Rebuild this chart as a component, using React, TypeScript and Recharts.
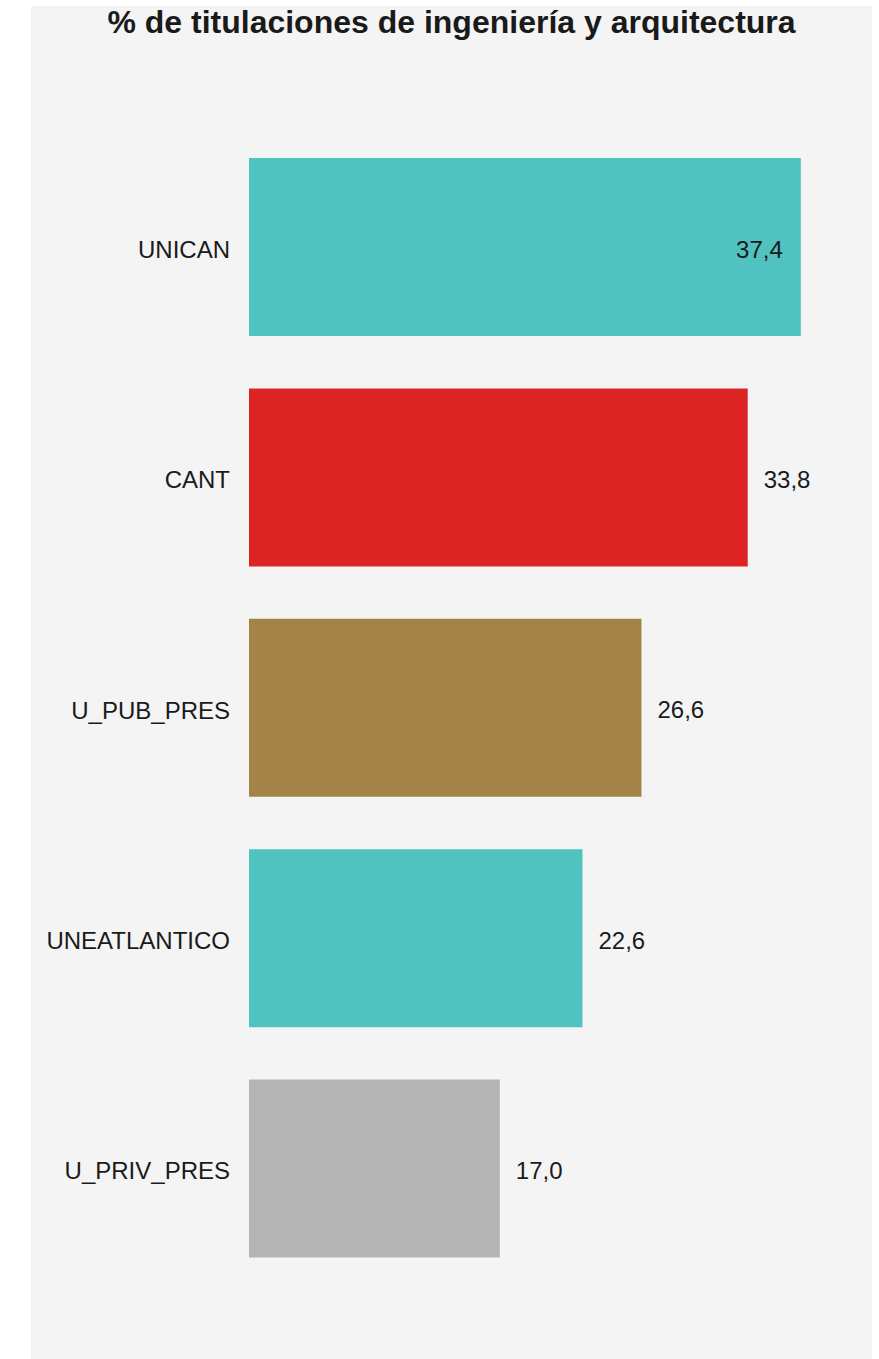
import { Bar, BarChart, Cell, LabelList, XAxis, YAxis } from 'recharts';

const categories = ['UNICAN', 'CANT', 'U_PUB_PRES', 'UNEATLANTICO', 'U_PRIV_PRES'];
const values = [37.4, 33.8, 26.6, 22.6, 17.0];
const colors = ['#50C2C0', '#DC2424', '#A38346', '#50C2C0', '#B5B5B5'];

const title = '% de titulaciones de ingeniería y arquitectura';

const data = categories.map((name, i) => ({ name, value: values[i] }));
const maxValue = Math.max(...values);

const fmt = (v: number) => v.toFixed(1).replace('.', ',');

const FONT = '"Liberation Sans", Arial, sans-serif';

function ValueLabel(props: any) {
  const { x, y, width, height, value } = props;
  const inside = value === maxValue;
  const tx = inside ? x + width - 18 : x + width + 16;
  return (
    <text
      x={tx}
      y={y + height / 2 + 2}
      textAnchor={inside ? 'end' : 'start'}
      dominantBaseline="central"
      fill="#1a1a1a"
      fontSize={24}
      fontFamily={FONT}
    >
      {fmt(value)}
    </text>
  );
}

function CategoryTick(props: any) {
  const { x, y, payload } = props;
  return (
    <text
      x={x}
      y={y + 2}
      textAnchor="end"
      dominantBaseline="central"
      fill="#1a1a1a"
      fontSize={24}
      fontFamily={FONT}
    >
      {payload.value}
    </text>
  );
}

export default function App() {
  return (
    <div style={{ position: 'absolute', left: 0, top: 0, width: 879, height: 1359, background: '#fff' }}>
      <div
        style={{
          position: 'absolute',
          left: 31,
          top: 6,
          width: 841,
          height: 1353,
          background: '#F4F4F4',
        }}
      />
      <div
        style={{
          position: 'absolute',
          left: 31,
          top: 4,
          width: 841,
          textAlign: 'center',
          fontFamily: FONT,
          fontWeight: 'bold',
          fontSize: 32,
          color: '#1a1a1a',
          lineHeight: '37px',
        }}
      >
        {title}
      </div>
      <div style={{ position: 'absolute', left: 0, top: 0 }}>
        <BarChart
          width={879}
          height={1359}
          data={data}
          layout="vertical"
          margin={{ top: 132, right: 23, bottom: 75, left: 0 }}
        >
          <XAxis type="number" domain={[0, 41.14]} hide />
          <YAxis
            type="category"
            dataKey="name"
            width={249}
            axisLine={false}
            tickLine={false}
            tickSize={0}
            tickMargin={19}
            tick={<CategoryTick />}
          />
          <Bar dataKey="value" barSize={178} isAnimationActive={false}>
            {data.map((d, i) => (
              <Cell key={d.name} fill={colors[i]} />
            ))}
            <LabelList dataKey="value" content={<ValueLabel />} />
          </Bar>
        </BarChart>
      </div>
    </div>
  );
}
